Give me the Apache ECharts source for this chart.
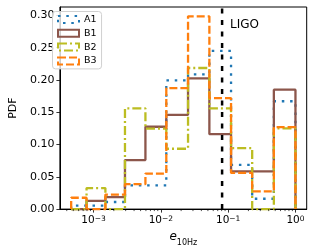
<!DOCTYPE html>
<html><head><meta charset="utf-8">
<script src="https://cdn.jsdelivr.net/npm/echarts@6/dist/echarts.min.js"></script>
<style>html,body{margin:0;padding:0;background:#fff}#c{width:315px;height:252px}</style>
</head><body><div id="c"></div>
<script>
// ---- data ----
const binEdges = [4.65e-4, 7.87e-4, 1.50e-3, 2.93e-3, 5.90e-3, 0.01205, 0.02535, 0.0526, 0.1104, 0.2275, 0.4775, 1.0];
const seriesNames = ['A1', 'B1', 'B2', 'B3'];
const pdfA1 = [0.0055, 0.0055, 0.011, 0.0366, 0.0366, 0.1995, 0.2085, 0.245, 0.0685, 0.016, 0.167];
const pdfB1 = [0, 0.0126, 0.0186, 0.076, 0.1275, 0.146, 0.2025, 0.116, 0.0585, 0.0585, 0.185];
const pdfB2 = [0, 0.0326, 0, 0.156, 0.1245, 0.0935, 0.2185, 0.156, 0.0945, 0, 0.125];
const pdfB3 = [0.0176, 0, 0.0225, 0.0386, 0.055, 0.1875, 0.2985, 0.172, 0.056, 0.0276, 0.127];
const ligoE = 0.0813;
const ligoLabel = 'LIGO';
const yTicks = [0, 0.05, 0.10, 0.15, 0.20, 0.25, 0.30];
const xMajorTicks = [1e-3, 1e-2, 1e-1, 1];
const xMinorTicks = [];
[-4, -3, -2, -1].forEach(n => { for (let k = 2; k <= 9; k++) xMinorTicks.push(k * Math.pow(10, n)); });

const xMin = Math.pow(10, -3.5), xMax = Math.pow(10, 0.167);
const yMax = 0.313;
const FONT = 'DejaVu Sans';

const colors = ['#1f77b4', '#8c564b', '#bcbd22', '#ff7f0e'];
const dashes = [[2.5, 5.8], 'solid', [9, 3, 2, 3], [8, 3]];
const allVals = [pdfA1, pdfB1, pdfB2, pdfB3];

function stepPoints(vals) {
  const pts = [[binEdges[0], 0]];
  vals.forEach((v, i) => { pts.push([binEdges[i], v]); pts.push([binEdges[i + 1], v]); });
  pts.push([binEdges[binEdges.length - 1], 0]);
  return pts;
}

const minus = '\u2212';
const chart = echarts.init(document.getElementById('c'), null, {renderer: 'canvas'});
const series = seriesNames.map((n, i) => ({
  name: n, type: 'line', data: stepPoints(allVals[i]), symbol: 'none', clip: false,
  lineStyle: {color: colors[i], width: 2.3, type: dashes[i], cap: 'butt'},
  itemStyle: {color: colors[i]}, z: 2 + i, animation: false
}));
series.push({
  name: ligoLabel, type: 'line', data: [[ligoE, 0], [ligoE, yMax]], symbol: 'none',
  lineStyle: {color: '#000', width: 2.5, type: [5, 6.5]}, z: 10, animation: false
});
series.push({
  type: 'custom', silent: true, clip: false, z: 11, animation: false,
  data: xMinorTicks.filter(v => v > xMin && v < xMax).map(v => [v, 0]),
  renderItem: (params, api) => {
    const p = api.coord([api.value(0), 0]);
    return {type: 'line', shape: {x1: p[0], y1: p[1], x2: p[0], y2: p[1] + 2}, style: {stroke: '#000', lineWidth: 0.7}};
  }
});

chart.setOption({
  animation: false,
  backgroundColor: '#fff',
  grid: {left: 50, right: 8.3, top: 7, bottom: 36, show: true, borderColor: '#000', borderWidth: 1, backgroundColor: 'transparent'},
  xAxis: {
    type: 'log', logBase: 10, min: xMin, max: xMax,
    name: '{e|e}{s|10Hz}', nameLocation: 'middle', nameGap: 19,
    nameTextStyle: {rich: {
      e: {fontFamily: FONT, fontSize: 12, fontStyle: 'italic', color: '#000', lineHeight: 14, verticalAlign: 'top'},
      s: {fontFamily: FONT, fontSize: 8, color: '#000', lineHeight: 10, padding: [8, 0, 0, 0], verticalAlign: 'top'}
    }},
    axisLine: {lineStyle: {color: '#000', width: 1}},
    axisTick: {customValues: xMajorTicks, length: 3.5, lineStyle: {color: '#000', width: 0.8}},
    minorTick: {show: false},
    splitLine: {show: false},
    axisLabel: {
      customValues: xMajorTicks, margin: 6,
      formatter: v => { const n = Math.round(Math.log10(v)); return '{b|10}{s|' + (n < 0 ? minus + (-n) : n) + '}'; },
      rich: {
        b: {fontFamily: FONT, fontSize: 10.5, color: '#000', verticalAlign: 'bottom'},
        s: {fontFamily: FONT, fontSize: 7.5, color: '#000', lineHeight: 8, verticalAlign: 'top'}
      }
    }
  },
  yAxis: {
    type: 'value', min: 0, max: yMax,
    name: 'PDF', nameLocation: 'middle', nameGap: 34,
    nameTextStyle: {fontFamily: FONT, fontSize: 11, color: '#000'},
    axisLine: {show: true, lineStyle: {color: '#000', width: 1}},
    axisTick: {show: true, customValues: yTicks, length: 3.5, lineStyle: {color: '#000', width: 0.8}},
    splitLine: {show: false},
    axisLabel: {customValues: yTicks, margin: 5.5, formatter: v => v.toFixed(2), fontFamily: FONT, fontSize: 11, color: '#000'}
  },
  legend: {
    left: 52.5, top: 11.5, orient: 'vertical', itemWidth: 21, itemHeight: 7, itemGap: 3.8,
    padding: [3, 5, 3, 4.5], backgroundColor: 'rgba(255,255,255,0.8)', borderColor: '#d0d0d0', borderWidth: 1, borderRadius: 3,
    textStyle: {fontFamily: FONT, fontSize: 9.5, color: '#000', lineHeight: 10},
    data: seriesNames.map((n, i) => ({name: n, icon: 'rect', itemStyle: {color: 'transparent', borderColor: colors[i], borderWidth: 2, borderType: dashes[i]}}))
  },
  graphic: [{type: 'text', x: 244.5, y: 25, z: 20, style: {text: ligoLabel, align: 'center', verticalAlign: 'middle', font: '12px "DejaVu Sans"', fill: '#000'}}],
  series: series
});
</script></body></html>
